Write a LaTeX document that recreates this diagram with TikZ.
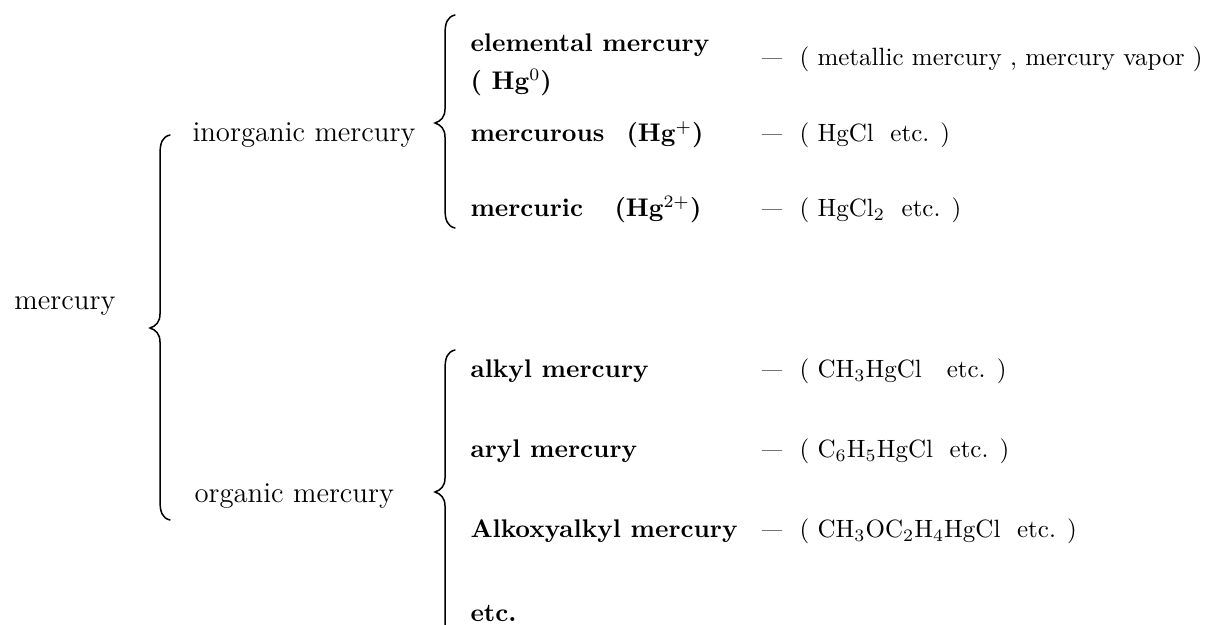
\documentclass[tikz,border=0pt]{standalone}
\usepackage{tikz}

% curly brace: x of the stem, top end, tip, bottom end
\newcommand{\hgbrace}[4]{%
  \draw[brace] ({#1+10},#2) .. controls ({#1+2},{#2+2}) and (#1,{#2+8}) .. (#1,{#2+20})
    -- (#1,{#3-14}) .. controls (#1,{#3-6}) and ({#1-4},{#3-2}) .. ({#1-10},#3)
    .. controls ({#1-4},{#3+2}) and (#1,{#3+6}) .. (#1,{#3+14})
    -- (#1,{#4-20}) .. controls (#1,{#4-8}) and ({#1+2},{#4-2}) .. ({#1+10},#4);}

\begin{document}
\begin{tikzpicture}[
    x=0.4pt, y=-0.4pt,
    brace/.style={line width=0.6pt, line cap=round},
    lbl/.style={anchor=base west, inner sep=0pt, font=\fontsize{11.5}{13}\selectfont},
    item/.style={anchor=base west, inner sep=0pt, font=\fontsize{10.2}{12}\selectfont\bfseries},
    cmpd/.style={anchor=base west, inner sep=0pt, font=\fontsize{10}{12}\selectfont}
  ]
  \useasboundingbox (0,0) rectangle (1229,625);

  \node[lbl] (hg) at (14,310) {mercury};
  \node[lbl] (inorg) at (192,142) {inorganic mercury};
  \node[lbl] (org) at (194,503) {organic mercury};

  \node[item] (elem) at (470,52) {elemental mercury};
  \node[item] (elemhg) at (470,90) {( Hg$^0$)};
  \node[item] (mous) at (470,142) {mercurous};
  \node[item] (moushg) at (626,142) {(Hg$^+$)};
  \node[item] (mic) at (470,217) {mercuric};
  \node[item] (michg) at (614,217) {(Hg$^{2+}$)};
  \node[item] (alkyl) at (470,378) {alkyl mercury};
  \node[item] (aryl) at (470,458) {aryl mercury};
  \node[item] (alkoxy) at (470,538) {Alkoxyalkyl mercury};
  \node[item] (etc) at (470,622) {etc.};

  % examples column
  \foreach \row/\y/\txt in {elem/66/{( metallic mercury , mercury vapor )},
      mous/142/{( HgCl\ \ etc. )}, mic/217/{( HgCl$_2$\ \ etc. )},
      alkyl/378/{( CH$_3$HgCl\ \ \ etc. )}, aryl/458/{( C$_6$H$_5$HgCl\ \ etc. )},
      alkoxy/538/{( CH$_3$OC$_2$H$_4$HgCl\ \ etc. )}} {
    \node[cmpd, anchor=base] (\row-dash) at (772,\y) {\scalebox{0.8}[1]{---}};
    \node[cmpd] (\row-ex) at (799,\y) {\txt};
  }

  \hgbrace{160}{135}{328}{520}
  \hgbrace{445}{15}{123}{228}
  \hgbrace{445}{350}{492}{645}
\end{tikzpicture}
\end{document}
